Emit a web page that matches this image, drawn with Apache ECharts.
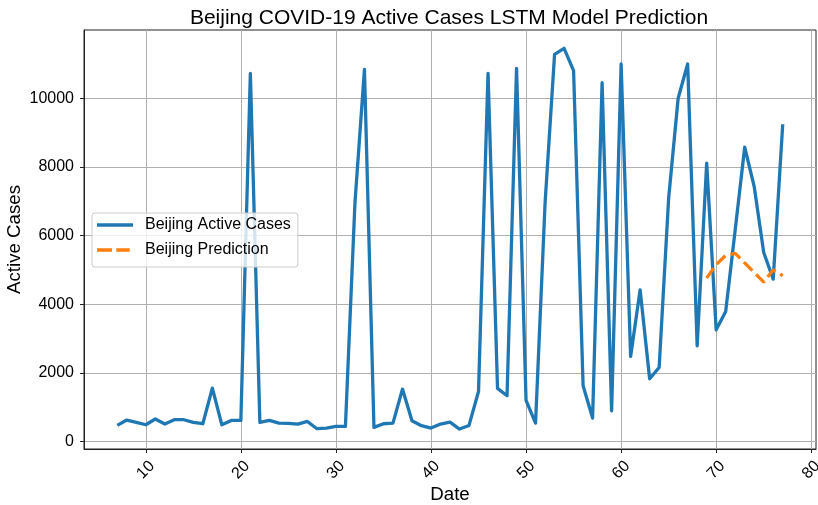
<!DOCTYPE html>
<html>
<head>
<meta charset="utf-8">
<script src="https://cdn.jsdelivr.net/npm/echarts@6/dist/echarts.min.js"></script>
<style>
  html, body { margin: 0; padding: 0; background: #fff; }
  #chart { width: 818px; height: 505px; }
</style>
</head>
<body>
<div id="chart"></div>
<script>
// Day index of each observation
const days = [];
for (let d = 7; d <= 77; d++) days.push(d);

// Observed active cases, one value per day (7..77)
const activeCases = [
  466, 623, 553, 486, 652, 506, 632, 632, 553, 515,
  1554, 486, 611, 611, 10725, 553, 611, 534, 524, 506,
  582, 370, 390, 437, 437, 6940, 10841, 408, 515, 534,
  1525, 601, 457, 390, 506, 563, 360, 466, 1456, 10725,
  1544, 1330, 10870, 1194, 534, 6940, 11278, 11453, 10800, 1621,
  680, 10451, 893, 10995, 2475, 4416, 1825, 2154, 7085, 9997,
  10995, 2786, 8105, 3252, 3785, 6163, 8571, 7424, 5502, 4728,
  9240
];

// LSTM forecast over the last days
const predDays = [69, 70, 71, 72, 73, 74, 75, 76, 77];
const prediction = [4757, 5150, 5420, 5480, 5200, 4920, 4640, 5000, 4830];

// Tick positions
const xTicks = [10, 20, 30, 40, 50, 60, 70, 80];
const yTicks = [0, 2000, 4000, 6000, 8000, 10000];

const FONT = '"Liberation Sans", Arial, Helvetica, sans-serif';

const activeData = days.map((d, i) => [d, activeCases[i]]);
const predData = predDays.map((d, i) => [d, prediction[i]]);

// Legend keys drawn as short line samples (solid and dashed)
const solidKey = 'path://M0,0H36V3.3H0Z';
const dashedKey = 'path://M0,0H15V3.3H0Z M19.3,0H32.7V3.3H19.3Z M36,0L36,3.3Z';

const chart = echarts.init(document.getElementById('chart'), null, { renderer: 'canvas' });

chart.setOption({
  animation: false,
  backgroundColor: '#ffffff',
  textStyle: { fontFamily: FONT },
  title: {
    text: 'Beijing COVID-19 Active Cases LSTM Model Prediction',
    left: 444,
    textAlign: 'center',
    top: 3,
    textStyle: { fontFamily: FONT, fontSize: 21, fontWeight: 'normal', color: '#000' }
  },
  grid: {
    left: 84, right: 2, top: 30, bottom: 56,
    containLabel: false,
    outerBoundsMode: 'none',
    show: true, borderColor: '#222', borderWidth: 1, backgroundColor: 'transparent'
  },
  legend: {
    orient: 'vertical',
    left: 92, top: 213,
    itemWidth: 36, itemHeight: 3.3, itemGap: 7,
    symbolKeepAspect: true,
    padding: [3, 7, 8, 5],
    backgroundColor: 'rgba(255,255,255,0.8)',
    borderColor: '#cccccc', borderWidth: 1, borderRadius: 3,
    textStyle: { fontFamily: FONT, fontSize: 16, color: '#000', lineHeight: 18, padding: [0, 0, 0, 7] },
    data: [
      { name: 'Beijing Active Cases', icon: solidKey },
      { name: 'Beijing Prediction', icon: dashedKey }
    ]
  },
  xAxis: {
    type: 'value',
    min: 3.5, max: 80.5,
    name: 'Date',
    nameLocation: 'middle',
    nameGap: 46,
    nameMoveOverlap: false,
    nameTextStyle: { fontFamily: FONT, fontSize: 18.7, color: '#000', verticalAlign: 'middle' },
    axisLine: { show: true, onZero: false, lineStyle: { color: '#222', width: 1 } },
    axisTick: { show: true, length: 4, lineStyle: { color: '#222', width: 1 }, customValues: xTicks },
    axisLabel: {
      customValues: xTicks,
      formatter: v => String(v),
      rotate: 45,
      align: 'center',
      verticalAlign: 'middle',
      margin: 21,
      fontFamily: FONT, fontSize: 16, color: '#000'
    },
    splitLine: { show: true, lineStyle: { color: '#b0b0b0', width: 1 } }
  },
  yAxis: {
    type: 'value',
    min: -221, max: 11986,
    name: 'Active Cases',
    nameLocation: 'middle',
    nameGap: 69,
    nameRotate: 90,
    nameMoveOverlap: false,
    nameTextStyle: { fontFamily: FONT, fontSize: 18.7, color: '#000', verticalAlign: 'middle' },
    axisLine: { show: true, onZero: false, lineStyle: { color: '#222', width: 1 } },
    axisTick: { show: true, length: 4, lineStyle: { color: '#222', width: 1 }, customValues: yTicks },
    axisLabel: {
      customValues: yTicks,
      formatter: v => String(v),
      margin: 10,
      fontFamily: FONT, fontSize: 16, color: '#000'
    },
    splitLine: { show: true, lineStyle: { color: '#b0b0b0', width: 1 } }
  },
  series: [
    {
      name: 'Beijing Active Cases',
      type: 'line',
      data: activeData,
      symbol: 'none',
      color: '#1f77b4',
      lineStyle: { color: '#1f77b4', width: 3.3, join: 'round' },
      z: 2
    },
    {
      name: 'Beijing Prediction',
      type: 'line',
      data: predData,
      symbol: 'none',
      color: '#ff7f0e',
      lineStyle: { color: '#ff7f0e', width: 3.3, type: [12, 5.3] },
      z: 3
    }
  ]
});
</script>
</body>
</html>
